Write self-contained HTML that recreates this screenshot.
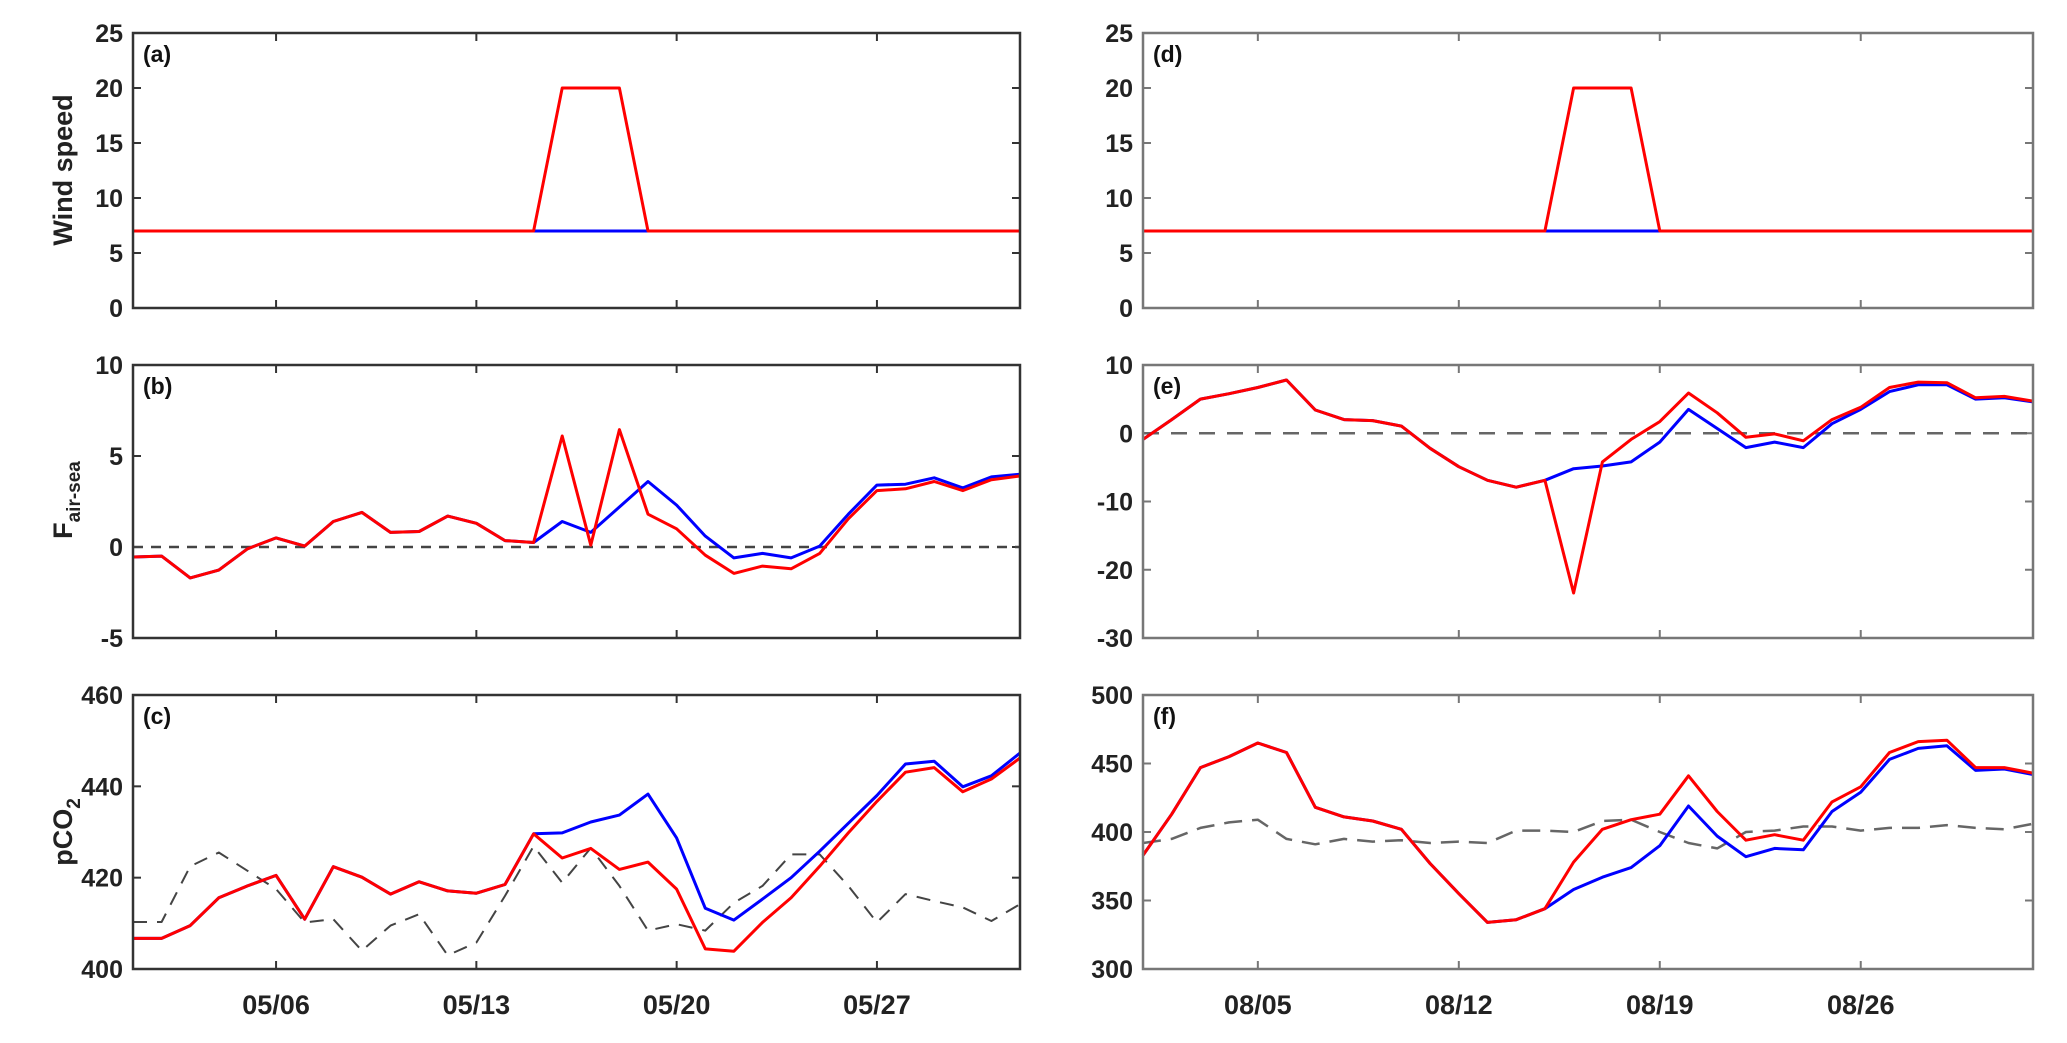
<!DOCTYPE html>
<html><head><meta charset="utf-8"><style>
html,body{margin:0;padding:0;background:#fff;}
svg{display:block;font-family:"Liberation Sans",sans-serif;font-weight:bold;}
</style></head><body>
<svg id="chart" width="2067" height="1043" viewBox="0 0 2067 1043" xmlns="http://www.w3.org/2000/svg"></svg>
<script>
const days = Array.from({length:32},(_,i)=>i+1);
const windRed = [7,7,7,7,7,7,7,7,7,7,7,7,7,7,7,20,20,20,7,7,7,7,7,7,7,7,7,7,7,7,7,7];
const windBlue = [7,7,7,7,7,7,7,7,7,7,7,7,7,7,7,7,7,7,7,7,7,7,7,7,7,7,7,7,7,7,7,7];
const fluxMayRed = [-0.55,-0.5,-1.7,-1.27,-0.1,0.5,0.05,1.4,1.9,0.8,0.85,1.7,1.3,0.35,0.25,6.1,0.1,6.45,1.8,1.0,-0.45,-1.45,-1.05,-1.2,-0.35,1.55,3.1,3.2,3.6,3.1,3.7,3.9];
const fluxMayBlue = [-0.55,-0.5,-1.7,-1.27,-0.1,0.5,0.05,1.4,1.9,0.8,0.85,1.7,1.3,0.35,0.25,1.4,0.8,2.2,3.6,2.3,0.6,-0.6,-0.35,-0.6,0.05,1.8,3.4,3.45,3.8,3.25,3.85,4.0];
const pco2MayRed = [406.7,406.7,409.5,415.6,418.2,420.5,410.9,422.4,420.1,416.4,419.1,417.1,416.6,418.5,429.6,424.3,426.4,421.8,423.4,417.5,404.4,403.9,410.2,415.6,422.5,429.8,436.7,443.1,444.1,438.8,441.6,446.2];
const pco2MayBlue = [406.7,406.7,409.5,415.6,418.2,420.5,410.9,422.4,420.1,416.4,419.1,417.1,416.6,418.5,429.6,429.8,432.2,433.7,438.3,428.7,413.3,410.7,415.3,420,425.8,431.9,438,444.9,445.5,439.9,442.3,447.3];
const pco2MayAir = [410.3,410.3,422.5,425.5,421.5,417.5,410.2,410.9,404,409.5,412,403,405.8,416,426.9,418.9,426.5,418.2,408.4,409.8,408.4,414.5,418.2,425.1,425.1,418.2,410.2,416.4,414.9,413.5,410.5,414.2];
const fluxAugRed = [-0.9,2.0,5.0,5.8,6.7,7.8,3.4,2.0,1.85,1.05,-2.2,-4.9,-6.9,-7.9,-6.9,-23.4,-4.2,-0.9,1.7,5.9,3.0,-0.6,-0.1,-1.1,2.0,3.8,6.7,7.5,7.4,5.2,5.4,4.7];
const fluxAugBlue = [-0.9,2.0,5.0,5.8,6.7,7.8,3.4,2.0,1.85,1.05,-2.2,-4.9,-6.9,-7.9,-6.9,-5.2,-4.8,-4.2,-1.3,3.5,0.7,-2.1,-1.3,-2.1,1.4,3.5,6.1,7.1,7.1,5.0,5.2,4.6];
const pco2AugRed = [383,413,447,455,465,458,418,411,408,402,377,355,334,336,344,378,402,409,413,441,415,394,398,394,422,433,458,466,467,447,447,443];
const pco2AugBlue = [383,413,447,455,465,458,418,411,408,402,377,355,334,336,344,358,367,374,390,419,397,382,388,387,415,429,453,461,463,445,446,442];
const pco2AugAir = [392,395,403,407,409,395,391,395,393,394,392,393,392,401,401,400,408,409,400,392,388,400,401,404,404,401,403,403,405,403,402,406];
const xTickDays = [6,13,20,27];
const xTickLabelsMay = ["05/06","05/13","05/20","05/27"];
const xTickDaysAug = [5,12,19,26];
const xTickLabelsAug = ["08/05","08/12","08/19","08/26"];
const yTicksWind = [0,5,10,15,20,25];
const yTicksFluxMay = [-5,0,5,10];
const yTicksFluxAug = [-30,-20,-10,0,10];
const yTicksPco2May = [400,420,440,460];
const yTicksPco2Aug = [300,350,400,450,500];

const NS="http://www.w3.org/2000/svg";
const svg=document.getElementById('chart');
function mk(tag,attrs,parent){const e=document.createElementNS(NS,tag);for(const k in attrs)e.setAttribute(k,attrs[k]);(parent||svg).appendChild(e);return e;}

const rows=[[33,308],[365,638],[695,969]];
const cols=[[133,1020],[1143,2033]];

function panel(cfg){
  const [x0,x1]=cols[cfg.col];const [y0,y1]=rows[cfg.row];
  const g=mk('g',{});
  
  
  const xs=d=>x0+(d-1)/31*(x1-x0);
  const ys=v=>y1-(v-cfg.ymin)/(cfg.ymax-cfg.ymin)*(y1-y0);
  const ax=cfg.col===0?'#333':'#777';
  cfg.yticks.forEach(t=>{
    const y=ys(t);
    const l1=mk('line',{x1:x0,x2:x0+8,y1:y,y2:y,stroke:ax,'stroke-width':2},g);
    
    
    const l2=mk('line',{x1:x1,x2:x1-8,y1:y,y2:y,stroke:ax,'stroke-width':2},g);
    
    
    const tx=mk('text',{x:x0-10,y:y+9,'text-anchor':'end','font-size':25,fill:'#222'},g);
    tx.textContent=t;
    
    
  });
  cfg.xdays.forEach((d,i)=>{
    const x=xs(d);
    const t1=mk('line',{x1:x,x2:x,y1:y1,y2:y1-8,stroke:ax,'stroke-width':2},g);
    
    
    const t2=mk('line',{x1:x,x2:x,y1:y0,y2:y0+8,stroke:ax,'stroke-width':2},g);
    
    
    if(cfg.row===2){
      const tx=mk('text',{x:x,y:1014,'text-anchor':'middle','font-size':27,fill:'#222'},g);
      tx.textContent=cfg.xlabels[i];
      
      
    }
  });
  if(cfg.zero!==undefined){
    const z=mk('line',{x1:x0,x2:x1,y1:ys(cfg.zero),y2:ys(cfg.zero),stroke:cfg.col===0?'#444':'#666','stroke-width':2.5,'stroke-dasharray':cfg.col===0?'10,8':'16,12'},g);
    
    
  }
  cfg.series.forEach(s=>{
    const pts=s.data.map((v,i)=>xs(days[i]).toFixed(1)+','+ys(v).toFixed(1)).join(' ');
    const p=mk('polyline',{points:pts,fill:'none',stroke:s.color,'stroke-width':s.w||3,'stroke-linejoin':'round'},g);
    if(s.dash)p.setAttribute('stroke-dasharray',s.dash);
    
    
  });
  const box=mk('rect',{x:x0,y:y0,width:x1-x0,height:y1-y0,fill:'none',stroke:ax,'stroke-width':2.5},g);
  
  
  const lab=mk('text',{x:x0+10,y:y0+29,'font-size':23,fill:'#111'},g);
  lab.textContent=cfg.label;
  
  
}

panel({name:'panel-a-wind-may',col:0,row:0,ymin:0,ymax:25,yticks:yTicksWind,xdays:xTickDays,xlabels:xTickLabelsMay,label:'(a)',
  series:[{data:windBlue,color:'#0000ff',name:'wind-blue-line'},{data:windRed,color:'#ff0000',name:'wind-red-line'}]});
panel({name:'panel-b-flux-may',col:0,row:1,ymin:-5,ymax:10,yticks:yTicksFluxMay,xdays:xTickDays,xlabels:xTickLabelsMay,label:'(b)',zero:0,
  series:[{data:fluxMayBlue,color:'#0000ff',name:'flux-blue-line'},{data:fluxMayRed,color:'#ff0000',name:'flux-red-line'}]});
panel({name:'panel-c-pco2-may',col:0,row:2,ymin:400,ymax:460,yticks:yTicksPco2May,xdays:xTickDays,xlabels:xTickLabelsMay,label:'(c)',
  series:[{data:pco2MayAir,color:'#444',dash:'14,10',w:2,name:'pco2-air-dashed-line'},{data:pco2MayBlue,color:'#0000ff',name:'pco2-blue-line'},{data:pco2MayRed,color:'#ff0000',name:'pco2-red-line'}]});
panel({name:'panel-d-wind-aug',col:1,row:0,ymin:0,ymax:25,yticks:yTicksWind,xdays:xTickDaysAug,xlabels:xTickLabelsAug,label:'(d)',
  series:[{data:windBlue,color:'#0000ff',name:'wind-blue-line'},{data:windRed,color:'#ff0000',name:'wind-red-line'}]});
panel({name:'panel-e-flux-aug',col:1,row:1,ymin:-30,ymax:10,yticks:yTicksFluxAug,xdays:xTickDaysAug,xlabels:xTickLabelsAug,label:'(e)',zero:0,
  series:[{data:fluxAugBlue,color:'#0000ff',name:'flux-blue-line'},{data:fluxAugRed,color:'#ff0000',name:'flux-red-line'}]});
panel({name:'panel-f-pco2-aug',col:1,row:2,ymin:300,ymax:500,yticks:yTicksPco2Aug,xdays:xTickDaysAug,xlabels:xTickLabelsAug,label:'(f)',
  series:[{data:pco2AugAir,color:'#666',dash:'18,10',w:2.5,name:'pco2-air-dashed-line'},{data:pco2AugBlue,color:'#0000ff',name:'pco2-blue-line'},{data:pco2AugRed,color:'#ff0000',name:'pco2-red-line'}]});
</script>
<svg style="position:absolute;left:0;top:0" width="120" height="1043">
  <text transform="translate(72,170) rotate(-90)" text-anchor="middle" font-size="27" font-family="Liberation Sans, sans-serif" font-weight="bold" fill="#222">Wind speed</text>
  <text transform="translate(72,500) rotate(-90)" text-anchor="middle" font-size="27" font-family="Liberation Sans, sans-serif" font-weight="bold" fill="#222">F<tspan font-size="19" dy="8">air-sea</tspan></text>
  <text transform="translate(72,832) rotate(-90)" text-anchor="middle" font-size="27" font-family="Liberation Sans, sans-serif" font-weight="bold" fill="#222">pCO<tspan font-size="19" dy="8">2</tspan></text>
</svg>
</body></html>
